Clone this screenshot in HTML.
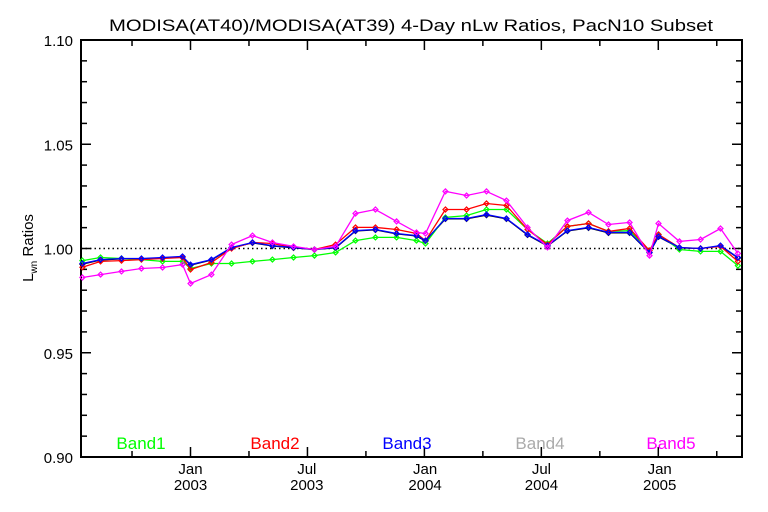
<!DOCTYPE html>
<html><head><meta charset="utf-8"><style>
html,body{margin:0;padding:0;background:#fff}
svg{display:block}
text{font-family:"Liberation Sans",sans-serif}
</style></head><body>
<svg id="chart" width="768" height="512" viewBox="0 0 768 512" xmlns="http://www.w3.org/2000/svg">
<rect x="0" y="0" width="768" height="512" fill="#fff"/>
<text x="109" y="31" textLength="604" lengthAdjust="spacingAndGlyphs" font-size="17" fill="#000">MODISA(AT40)/MODISA(AT39) 4-Day nLw Ratios, PacN10 Subset</text>
<text transform="translate(33,248) rotate(-90)" text-anchor="middle" font-size="15" fill="#000">L<tspan font-size="10" dy="4">wn</tspan><tspan dy="-4"> Ratios</tspan></text>
<g id="axes"></g>
<g id="series"></g>
<g id="legend"></g>
</svg>
<script>
// months relative to Jan 2003
const months=[-5.53,-4.6,-3.53,-2.51,-1.43,-0.41,0,1.07,2.1,3.17,4.19,5.27,6.34,7.42,8.44,9.46,10.54,11.56,12.02,13.04,14.12,15.14,16.16,17.24,18.26,19.28,20.36,21.38,22.46,23.48,23.94,25.01,26.09,27.11,28.0];
const band1=[0.9942,0.9957,0.9952,0.9947,0.9938,0.9938,0.9904,0.9928,0.9928,0.9938,0.9947,0.9957,0.9966,0.9981,1.0038,1.0053,1.0053,1.0038,1.0024,1.0149,1.0158,1.0187,1.0187,1.0091,1.0024,1.0106,1.012,1.0082,1.0086,0.999,1.0067,0.9995,0.9986,0.9986,0.9918];
const band2=[0.991,0.9938,0.9942,0.9947,0.9952,0.9957,0.9899,0.9933,1.0,1.0029,1.0024,1.0005,0.9995,1.0019,1.0101,1.0101,1.0091,1.0072,1.0038,1.0187,1.0187,1.0216,1.0206,1.0091,1.0019,1.0106,1.012,1.0082,1.0096,0.999,1.0067,1.0005,1.0,1.001,0.9938];
const band3=[0.9928,0.9947,0.9952,0.9952,0.9957,0.9962,0.9923,0.9947,1.0005,1.0029,1.0014,1.0005,0.9995,1.0005,1.0086,1.0091,1.0072,1.0062,1.0038,1.0144,1.0144,1.0163,1.0144,1.0067,1.0014,1.0086,1.0101,1.0077,1.0077,0.9981,1.0058,1.0005,1.0,1.0014,0.9957];
const band4=[0.9925,0.9945,0.995,0.995,0.9955,0.996,0.992,0.9945,1.0003,1.0027,1.0012,1.0003,0.9995,1.0003,1.0084,1.0089,1.007,1.006,1.0036,1.0142,1.0142,1.016,1.0142,1.0065,1.0012,1.0084,1.0099,1.0075,1.0075,0.998,1.0056,1.0003,1.0,1.0012,0.9955];
const band5=[0.9861,0.9875,0.989,0.9904,0.9909,0.9923,0.9832,0.9875,1.0019,1.0062,1.0029,1.001,0.9995,1.001,1.0168,1.0187,1.013,1.0077,1.0072,1.0274,1.0254,1.0274,1.023,1.0101,1.0005,1.0134,1.0173,1.0115,1.0125,0.9966,1.012,1.0034,1.0043,1.0096,0.9976];
const yTicks=[0.90,0.95,1.00,1.05,1.10];
const xTickLabels=[["Jan","2003",0],["Jul","2003",5.95],["Jan","2004",12],["Jul","2004",17.95],["Jan","2005",24]];
const legendNames=["Band1","Band2","Band3","Band4","Band5"];

const L=81,R=742,T=40,B=457;
const mx=m=>190.5+m*19.55;
const vy=v=>B-(v-0.90)/0.20*(B-T);
const NS="http://www.w3.org/2000/svg";
function mk(tag,attrs,parent){const e=document.createElementNS(NS,tag);for(const k in attrs)e.setAttribute(k,attrs[k]);parent.appendChild(e);return e;}
const axes=document.getElementById('axes');
const frame=mk('rect',{x:L,y:T,width:R-L,height:B-T,fill:'none',stroke:'#000','stroke-width':2},axes);


const ref=mk('line',{x1:L,x2:R,y1:vy(1),y2:vy(1),stroke:'#000','stroke-width':1.5,'stroke-dasharray':'1.5,3'},axes);


for(let i=0;i<=20;i++){const v=0.90+i*0.01;const y=vy(v);const len=(i%5===0)?10:6;
 const t1=mk('line',{x1:L,x2:L+len,y1:y,y2:y,stroke:'#000','stroke-width':1.5},axes);
 
 
 const t2=mk('line',{x1:R-len,x2:R,y1:y,y2:y,stroke:'#000','stroke-width':1.5},axes);
 
 }
yTicks.forEach(v=>{const t=mk('text',{x:L-8,y:vy(v)+6,'text-anchor':'end','font-size':15,fill:'#000'},axes);t.textContent=v.toFixed(2);
 
 });
for(let q=-1;q<=9;q++){const x=mx(q*3*0.997);if(x<=L||x>=R)continue;const major=(q%2===0);const len=major?10:6;
 const a=mk('line',{x1:x,x2:x,y1:B,y2:B-len,stroke:'#000','stroke-width':1.5},axes);
 
 
 const b=mk('line',{x1:x,x2:x,y1:T,y2:T+len,stroke:'#000','stroke-width':1.5},axes);
 
 }
xTickLabels.forEach(([a,b,m])=>{const t=mk('text',{x:mx(m),y:B+17,'text-anchor':'middle','font-size':15,fill:'#000'},axes);t.textContent=a;
 
 
 const u=mk('text',{x:mx(m),y:B+33,'text-anchor':'middle','font-size':15,fill:'#000'},axes);u.textContent=b;
 
 });
const series=document.getElementById('series');
const defs=[[band4,'#000','band4-line'],[band1,'#00ff00','band1-line'],[band2,'#ff0000','band2-line'],[band3,'#0000ff','band3-line'],[band5,'#ff00ff','band5-line']];
defs.forEach(([vals,c,name])=>{
 const g=mk('g',{},series);
 
 
 const pts=vals.map((v,i)=>mx(months[i]).toFixed(1)+','+vy(v).toFixed(1)).join(' ');
 mk('polyline',{points:pts,fill:'none',stroke:c,'stroke-width':1.3},g);
 vals.forEach((v,i)=>{const x=mx(months[i]),y=vy(v);
  const d=mk('path',{d:`M${x-2.5},${y}L${x},${y-2.5}L${x+2.5},${y}L${x},${y+2.5}Z`,fill:'none',stroke:c,'stroke-width':1.2},g);
  
  });
});
const lg=document.getElementById('legend');
const lcol=['#00ff00','#ff0000','#0000ff','#aaaaaa','#ff00ff'];
const lx=[141,275,407,540,671];
legendNames.forEach((n,i)=>{const t=mk('text',{x:lx[i],y:449,'text-anchor':'middle','font-size':17,fill:lcol[i]},lg);t.textContent=n;
 
 });
</script>
</body></html>
